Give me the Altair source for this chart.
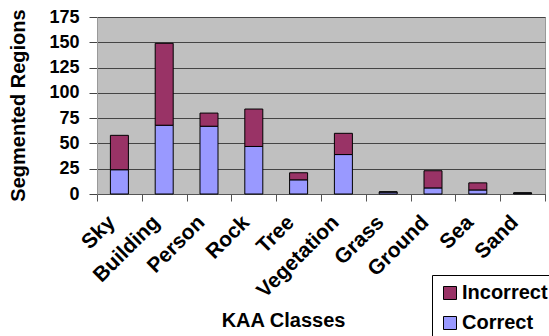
import altair as alt
import pandas as pd

classes = ["Sky", "Building", "Person", "Rock", "Tree", "Vegetation", "Grass", "Ground", "Sea", "Sand"]
correct = [24, 68, 67, 47, 14, 39, 2, 6, 4, 1]
incorrect = [34, 81, 13, 37, 7, 21, 0, 17, 7, 0]

rows = []
for c, v1, v2 in zip(classes, correct, incorrect):
    rows.append({"cls": c, "status": "Correct", "value": v1, "ord": 0})
    rows.append({"cls": c, "status": "Incorrect", "value": v2, "ord": 1})
df = pd.DataFrame(rows)

font = "Liberation Sans"

chart = alt.Chart(df).mark_bar(stroke="black", strokeWidth=1, size=18).encode(
    x=alt.X("cls:N", sort=classes, title="KAA Classes",
            scale=alt.Scale(paddingInner=0, paddingOuter=0),
            axis=alt.Axis(labelAngle=-45, labelAlign="right", labelBaseline="middle",
                          labelFont=font, labelFontSize=21, labelFontWeight="bold",
                          labelColor="black", labelPadding=18, labelOffset=-8,
                          tickBand="extent", tickColor="#555", tickSize=7,
                          domainColor="#555", titleFont=font, titleFontSize=20,
                          titleFontWeight="bold", titleColor="black",
                          titleX=186, titleY=136, titleAnchor="middle",
                          titleAlign="center", titleBaseline="bottom")),
    y=alt.Y("value:Q", stack="zero", title="Segmented Regions",
            scale=alt.Scale(domain=[0, 175]),
            axis=alt.Axis(values=[0, 25, 50, 75, 100, 125, 150, 175],
                          labelFont=font, labelFontSize=18, labelFontWeight="bold",
                          labelColor="black", ticks=True, tickSize=8, tickColor="#444",
                          labelPadding=10,
                          gridColor="#444", gridWidth=1, domain=True, domainColor="#999",
                          titleFont=font, titleFontSize=20, titleFontWeight="bold",
                          titleColor="black", titleX=-79, titleY=88,
                          titleAlign="center", titleBaseline="middle", titleAngle=-90)),
    color=alt.Color("status:N",
                    scale=alt.Scale(domain=["Incorrect", "Correct"], range=["#993366", "#9999FF"]),
                    legend=alt.Legend(title=None, orient="none", legendX=335, legendY=258,
                                      symbolType="square", symbolSize=169, symbolStrokeColor="black",
                                      symbolStrokeWidth=1, labelFont=font, labelFontSize=20,
                                      labelFontWeight="bold", labelColor="black",
                                      labelOffset=2,
                                      strokeColor="black", fillColor="white", padding=8,
                                      rowPadding=10)),
    order=alt.Order("ord:Q"),
).properties(
    width=448, height=177,
    autosize=alt.AutoSizeParams(type="none"),
    padding={"left": 97, "top": 17, "right": 4, "bottom": 142},
).configure_view(fill="#C0C0C0", stroke="#999", strokeWidth=1)

chart.save("out.html", embed_options={"renderer": "svg", "actions": False})
